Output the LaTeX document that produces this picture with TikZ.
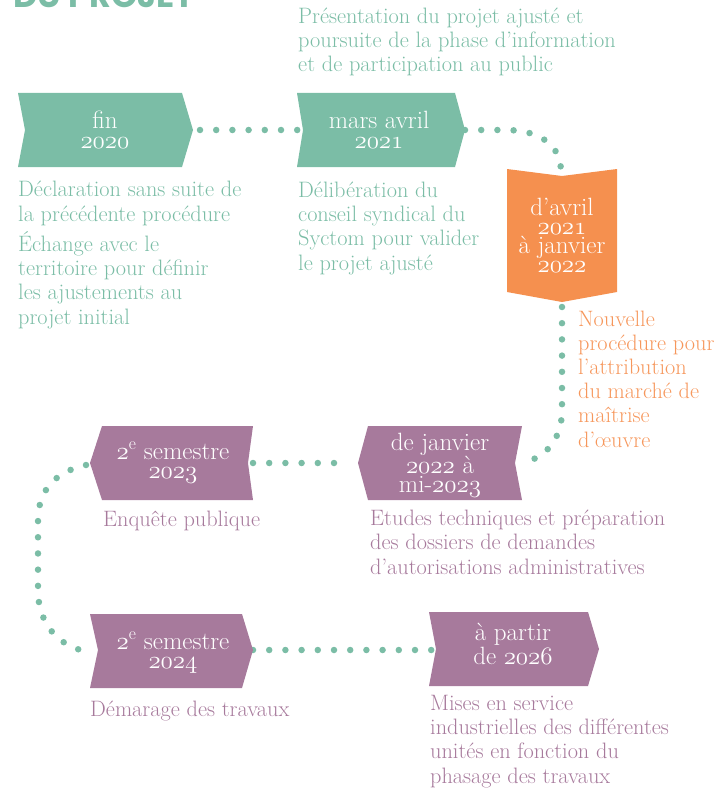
\RequirePackage{fix-cm}
\documentclass[tikz,border=0pt]{standalone}
\usepackage{fontspec}
\newfontfamily\titlefont{Poppins}
\definecolor{vert}{HTML}{7BBDA6}
\definecolor{orng}{HTML}{F5904F}
\definecolor{orngtxt}{HTML}{F6975C}
\definecolor{mauve}{HTML}{A77A9C}
\newcommand\osn[1]{{\usefont{OML}{cmm}{m}{it}#1}}
\tikzset{
  dots/.style={draw=vert, line width=6.5pt, line cap=round, dash pattern=on 0pt off 16.2pt},
  boxtxt/.style={text=white, font=\fontsize{25}{19}\selectfont, align=center, anchor=base, inner sep=0pt},
  body/.style={font=\fontsize{22.3}{24.2}\selectfont, align=left, anchor=base west, inner sep=0pt},
}
\begin{document}
\begin{tikzpicture}[x=1pt, y=-1pt]
\useasboundingbox (0,0) rectangle (718,789);
\clip (0,0) rectangle (718,789);
% title fragment
\node[anchor=base west, inner sep=0pt, text=vert, font=\titlefont\bfseries\fontsize{33.5}{33.5}\selectfont] (title) at (13,8) {DU PROJET};
% coordinates (tips)
\coordinate (b1e) at (200,130);
\coordinate (b2w) at (298,130);
\coordinate (b2e) at (465,130);
\coordinate (ortop) at (561,172);
\coordinate (orbot) at (562,307);
\coordinate (paE) at (522,463);
\coordinate (paW) at (350,463);
\coordinate (pbE) at (253,463);
\coordinate (pbW) at (86,465);
\coordinate (pcW) at (90,652);
\coordinate (pcE) at (253,650);
\coordinate (pdW) at (432,650);
% connectors
\draw[dots] (b1e) -- (b2w);
\draw[dots] (b2e) -- (505,130) .. controls (540,130) and (561,145) .. (ortop);
\draw[dots] (orbot) -- (562,410) .. controls (562,440) and (545,458) .. (paE);
\draw[dots] (pbE) -- (paW);
\draw[dots] (pbW) .. controls (55,472) and (38,490) .. (38,521) -- (38,590) .. controls (38,625) and (60,648) .. (pcW);
\draw[dots] (pcE) -- (pdW);
% boxes
\fill[vert] (18,93) -- (182,93) -- (193,130) -- (182,167) -- (18,167) -- (25,130) -- cycle;
\fill[vert] (297,93) -- (455,93) -- (465,130) -- (455,167) -- (297,167) -- (303,130) -- cycle;
\fill[orng] (507,169) -- (562,176) -- (617,169) -- (617,292) -- (562,302) -- (507,292) -- cycle;
\fill[mauve] (368,426) -- (522,426) -- (515,463) -- (522,500) -- (368,500) -- (358,463) -- cycle;
\fill[mauve] (102,426) -- (253,426) -- (248,463) -- (253,500) -- (102,500) -- (90,463) -- cycle;
\fill[mauve] (90,614) -- (242,614) -- (253,650) -- (242,688) -- (90,688) -- (98,650) -- cycle;
\fill[mauve] (429,612) -- (588,612) -- (599,649) -- (588,686) -- (429,686) -- (436,649) -- cycle;
% box texts (anchor = baseline of last line)
\node[boxtxt, font=\fontsize{25}{20}\selectfont] (t1) at (105,148) {fin\\\osn{2020}};
\node[boxtxt, font=\fontsize{25}{20}\selectfont] (t2) at (379,148) {mars avril\\\osn{2021}};
\node[boxtxt, font=\fontsize{25}{18.7}\selectfont] (t3) at (562,272) {d’avril\\\osn{2021}\\à janvier\\\osn{2022}};
\node[boxtxt, font=\fontsize{25}{18.5}\selectfont] (t4) at (440,492) {de janvier\\\osn{2022} à\\mi-\osn{2023}};
\node[boxtxt] (t5) at (173,478) {\osn{2}\textsuperscript{e} semestre\\\osn{2023}};
\node[boxtxt] (t6) at (173,668) {\osn{2}\textsuperscript{e} semestre\\\osn{2024}};
\node[boxtxt] (t7) at (513,664) {à partir\\de \osn{2026}};
% body texts (anchor = baseline of last line)
\node[body, text=vert] (p1) at (298,72) {Présentation du projet ajusté et\\poursuite de la phase d’information\\et de participation au public};
\node[body, text=vert] (p2) at (18,221) {Déclaration sans suite de\\la précédente procédure};
\node[body, text=vert] (p3) at (18,324) {Échange avec le\\territoire pour définir\\les ajustements au\\projet initial};
\node[body, text=vert] (p4) at (298,270) {Délibération du\\conseil syndical du\\Syctom pour valider\\le projet ajusté};
\node[body, text=orngtxt] (p5) at (578,447) {Nouvelle\\procédure pour\\l’attribution\\du marché de\\maîtrise\\d’œuvre};
\node[body, text=mauve] (p6) at (103,526) {Enquête publique};
\node[body, text=mauve] (p7) at (370,574) {Etudes techniques et préparation\\des dossiers de demandes\\d’autorisations administratives};
\node[body, text=mauve] (p8) at (90,716) {Démarage des travaux};
\node[body, text=mauve] (p9) at (430,783) {Mises en service\\industrielles des différentes\\unités en fonction du\\phasage des travaux};
\end{tikzpicture}
\end{document}
